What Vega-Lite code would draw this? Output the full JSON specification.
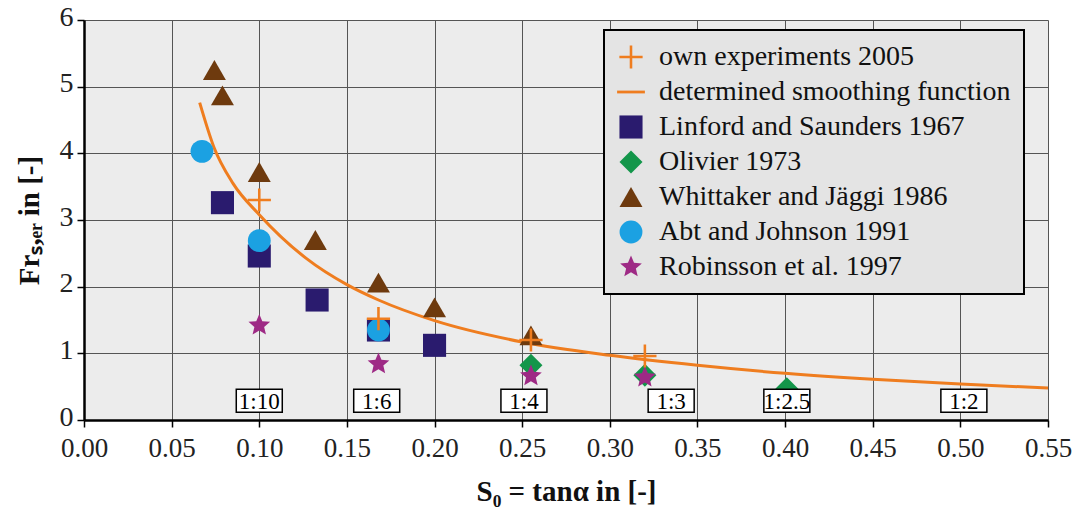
{
  "$schema": "https://vega.github.io/schema/vega-lite/v6.json",
  "width": 964,
  "height": 400,
  "autosize": "none",
  "padding": {"left": 84, "top": 20, "right": 34, "bottom": 88},
  "background": "white",
  "datasets": {
    "curve": [
      {"x": 0.066, "y": 4.76},
      {"x": 0.074, "y": 4.1},
      {"x": 0.085, "y": 3.55},
      {"x": 0.1, "y": 3.08},
      {"x": 0.127, "y": 2.42},
      {"x": 0.15, "y": 2.03},
      {"x": 0.168, "y": 1.8},
      {"x": 0.2, "y": 1.49},
      {"x": 0.25, "y": 1.17},
      {"x": 0.3, "y": 0.97},
      {"x": 0.35, "y": 0.82},
      {"x": 0.4, "y": 0.7},
      {"x": 0.45, "y": 0.61},
      {"x": 0.5, "y": 0.54},
      {"x": 0.55, "y": 0.48}
    ],
    "points": [
      {"series": "Linford and Saunders 1967", "x": 0.079, "y": 3.26},
      {"series": "Linford and Saunders 1967", "x": 0.1, "y": 2.46},
      {"series": "Linford and Saunders 1967", "x": 0.133, "y": 1.8},
      {"series": "Linford and Saunders 1967", "x": 0.168, "y": 1.35},
      {"series": "Linford and Saunders 1967", "x": 0.2, "y": 1.12},
      {"series": "Olivier 1973", "x": 0.255, "y": 0.82},
      {"series": "Olivier 1973", "x": 0.32, "y": 0.67},
      {"series": "Olivier 1973", "x": 0.401, "y": 0.47},
      {"series": "Whittaker and Jäggi 1986", "x": 0.0744, "y": 5.25},
      {"series": "Whittaker and Jäggi 1986", "x": 0.079, "y": 4.87},
      {"series": "Whittaker and Jäggi 1986", "x": 0.1, "y": 3.72},
      {"series": "Whittaker and Jäggi 1986", "x": 0.132, "y": 2.7},
      {"series": "Whittaker and Jäggi 1986", "x": 0.168, "y": 2.06},
      {"series": "Whittaker and Jäggi 1986", "x": 0.2, "y": 1.69},
      {"series": "Whittaker and Jäggi 1986", "x": 0.255, "y": 1.27},
      {"series": "Abt and Johnson 1991", "x": 0.0673, "y": 4.03},
      {"series": "Abt and Johnson 1991", "x": 0.1, "y": 2.69},
      {"series": "Abt and Johnson 1991", "x": 0.168, "y": 1.35},
      {"series": "Robinsson et al.  1997", "x": 0.1, "y": 1.42},
      {"series": "Robinsson et al.  1997", "x": 0.168, "y": 0.84},
      {"series": "Robinsson et al.  1997", "x": 0.255, "y": 0.66},
      {"series": "Robinsson et al.  1997", "x": 0.32, "y": 0.64},
      {"series": "own experiments 2005", "x": 0.1, "y": 3.3},
      {"series": "own experiments 2005", "x": 0.168, "y": 1.52},
      {"series": "own experiments 2005", "x": 0.255, "y": 1.2},
      {"series": "own experiments 2005", "x": 0.32, "y": 0.96}
    ],
    "slopes": [
      {"label": "1:10", "x": 0.1, "y": 0.29},
      {"label": "1:6", "x": 0.167, "y": 0.29},
      {"label": "1:4", "x": 0.251, "y": 0.29},
      {"label": "1:3", "x": 0.335, "y": 0.29},
      {"label": "1:2.5", "x": 0.401, "y": 0.29},
      {"label": "1:2", "x": 0.502, "y": 0.29}
    ]
  },
  "encoding": {
    "x": {
      "field": "x", "type": "quantitative",
      "scale": {"domain": [0, 0.55], "nice": false, "zero": false},
      "axis": {
        "values": [0, 0.05, 0.1, 0.15, 0.2, 0.25, 0.3, 0.35, 0.4, 0.45, 0.5, 0.55],
        "format": ".2f",
        "labelFlush": false,
        "labelOverlap": false,
        "labelFontSize": 27,
        "labelPadding": 8,
        "title": "S₀ = tanα in [-]",
        "titlePadding": 16
      }
    },
    "y": {
      "field": "y", "type": "quantitative",
      "scale": {"domain": [0, 6], "nice": false},
      "axis": {
        "values": [0, 1, 2, 3, 4, 5, 6],
        "labelFontSize": 28,
        "labelFlush": false,
        "labelPadding": 4,
        "labelOffset": -3,
        "title": "Frₛ,ₑᵣ in [-]",
        "titlePadding": 15
      }
    }
  },
  "layer": [
    {
      "data": {"name": "curve"},
      "mark": {"type": "line", "color": "#ef7d1f", "strokeWidth": 3, "interpolate": "monotone"}
    },
    {
      "data": {"name": "points"},
      "mark": {"type": "point", "filled": true, "opacity": 1, "strokeWidth": 0},
      "encoding": {
        "color": {
          "field": "series", "type": "nominal",
          "scale": {
            "domain": ["own experiments 2005", "determined smoothing function", "Linford and Saunders 1967", "Olivier 1973", "Whittaker and Jäggi 1986", "Abt and Johnson 1991", "Robinsson et al.  1997"],
            "range": ["#ef7d1f", "#ef7d1f", "#2a1b6e", "#13964a", "#6e3a0e", "#1ba1e2", "#9e2a85"]
          },
          "legend": {"title": null}
        },
        "shape": {
          "field": "series", "type": "nominal",
          "scale": {
            "domain": ["own experiments 2005", "determined smoothing function", "Linford and Saunders 1967", "Olivier 1973", "Whittaker and Jäggi 1986", "Abt and Johnson 1991", "Robinsson et al.  1997"],
            "range": [
              "M-0.11,-1H0.11V-0.11H1V0.11H0.11V1H-0.11V0.11H-1V-0.11H-0.11Z",
              "M-1.2,-0.12H1.2V0.12H-1.2Z",
              "square",
              "diamond",
              "triangle-up",
              "circle",
              "M0,-1L0.265,-0.364L0.951,-0.309L0.428,0.139L0.588,0.809L0,0.45L-0.588,0.809L-0.428,0.139L-0.951,-0.309L-0.265,-0.364Z"
            ]
          },
          "legend": {"title": null}
        },
        "size": {
          "field": "series", "type": "nominal",
          "scale": {
            "domain": ["own experiments 2005", "determined smoothing function", "Linford and Saunders 1967", "Olivier 1973", "Whittaker and Jäggi 1986", "Abt and Johnson 1991", "Robinsson et al.  1997"],
            "range": [540, 520, 330, 330, 440, 380, 720]
          },
          "legend": {"title": null}
        }
      }
    },
    {
      "data": {"name": "slopes"},
      "mark": {"type": "point", "shape": "M-1,-0.5H1V0.5H-1Z", "size": 2116, "filled": true, "fill": "white", "opacity": 1, "stroke": "black", "strokeWidth": 1.5}
    },
    {
      "data": {"name": "slopes"},
      "mark": {"type": "text", "font": "Liberation Serif", "fontSize": 23, "color": "black", "baseline": "middle", "align": "center", "dy": 1},
      "encoding": {"text": {"field": "label"}}
    }
  ],
  "config": {
    "font": "Liberation Serif",
    "view": {"fill": "#ececec", "stroke": null},
    "axis": {
      "labelFont": "Liberation Serif",
      "labelColor": "#222",
      "titleFont": "Liberation Serif",
      "titleFontSize": 29,
      "titleFontWeight": "bold",
      "titleColor": "#111",
      "domainColor": "#000",
      "domainWidth": 2.5,
      "tickColor": "#000",
      "tickWidth": 1.5,
      "tickSize": 7,
      "gridColor": "#555",
      "gridOpacity": 1,
      "gridWidth": 1
    },
    "legend": {
      "orient": "none",
      "legendX": 520,
      "legendY": 10,
      "fillColor": "#e4e4e4",
      "strokeColor": "#000",
      "strokeWidth": 2,
      "padding": 13,
      "labelFont": "Liberation Serif",
      "labelFontSize": 28,
      "labelColor": "#111",
      "labelLimit": 600,
      "labelOffset": 14,
      "symbolStrokeWidth": 0,
      "rowPadding": 7
    }
  }
}
